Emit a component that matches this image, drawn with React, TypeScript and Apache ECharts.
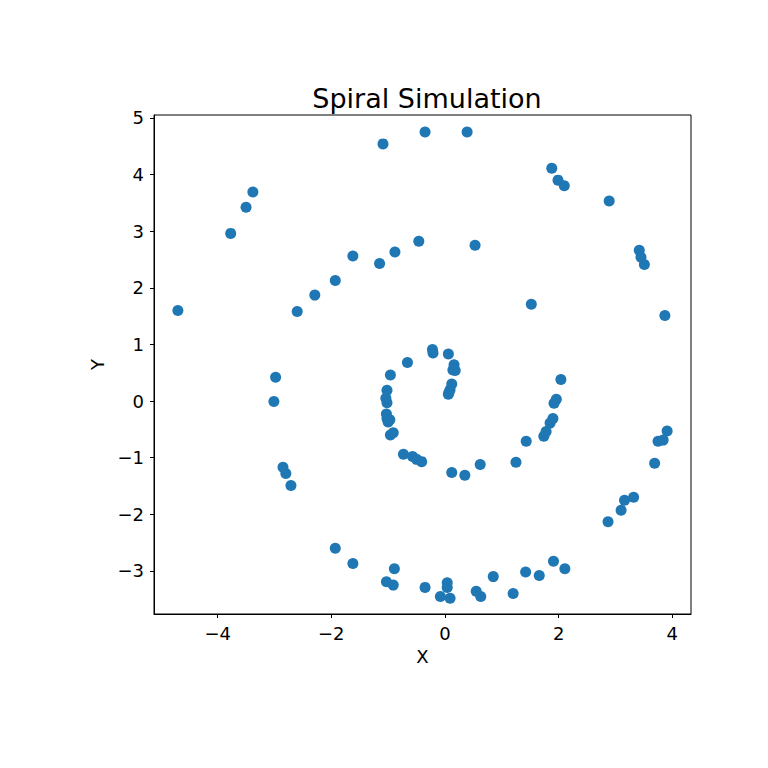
import * as echarts from "echarts";
import { useEffect, useRef } from "react";

// spiral points
const xValues = [
  -4.7, -3.77, -3.5, -3.38, -1.09, -0.35, 0.39, 1.88, 1.99, 2.1, 2.89, 3.42, 3.45, 3.51, 3.87,
  3.91, 3.75, 3.84, 3.69, 3.32, 3.16, 3.1, 2.87, 2.11, 1.91, 1.66, 1.42, 1.2, 0.85, 0.63, 0.55,
  0.09, 0.04, 0.04, -0.08, -0.35, -0.89, -0.91, -1.03, -1.62, -1.93, -2.71, -2.8, -2.85, -3.01,
  -2.98, -2.6, -2.29, -1.93, -1.62, -1.15, -0.88, -0.46, 0.53, 1.52,
  -0.66, -0.22, -0.21, 0.06, 0.16, 0.14, 0.18, 0.12, 0.09, 0.07, 0.06, -0.96, -1.02, -1.04,
  -1.02, -1.03, -1.02, -1.0, -0.97, -0.96, -0.91, -0.73, -0.57, -0.5, -0.41, 0.12, 0.35, 0.62,
  1.25, 1.43, 1.74, 1.78, 1.85, 1.9, 1.92, 1.96, 2.04,
];
const yValues = [
  1.6, 2.96, 3.42, 3.69, 4.54, 4.75, 4.75, 4.11, 3.9, 3.8, 3.53, 2.66, 2.54, 2.41, 1.51,
  -0.53, -0.71, -0.69, -1.1, -1.7, -1.75, -1.93, -2.13, -2.96, -2.83, -3.08, -3.02, -3.4, -3.1,
  -3.45, -3.36, -3.48, -3.29, -3.21, -3.45, -3.29, -2.96, -3.25, -3.19, -2.87, -2.6, -1.49,
  -1.28, -1.17, -0.01, 0.42, 1.58, 1.87, 2.13, 2.56, 2.43, 2.63, 2.82, 2.75, 1.71,
  0.68, 0.91, 0.85, 0.83, 0.64, 0.55, 0.54, 0.3, 0.2, 0.15, 0.12, 0.46, 0.19, 0.05,
  -0.03, -0.23, -0.31, -0.37, -0.33, -0.6, -0.56, -0.94, -0.98, -1.03, -1.07, -1.26, -1.31,
  -1.12, -1.08, -0.71, -0.62, -0.54, -0.39, -0.31, -0.04, 0.03, 0.38,
];
const xTicks = [-4, -2, 0, 2, 4];
const yTicks = [-3, -2, -1, 0, 1, 2, 3, 4, 5];

const font = "DejaVu Sans";
const minus = (v: number) => String(v).replace("-", "\u2212");

export default function App() {
  const chartRef = useRef<HTMLDivElement>(null);
  useEffect(() => {
    const chart = echarts.init(chartRef.current, null, { renderer: "svg" });
    chart.setOption(getChartOption());
    return () => {
      chart.dispose();
    };
  }, []);
  return (
    <div
      ref={chartRef}
      style={{ position: "fixed", left: 0, top: 0, width: "768px", height: "768px", background: "#fff" }}
    />
  );
}

function getChartOption() {
  const axisCommon = {
    type: "value",
    nameLocation: "middle",
    nameTextStyle: { fontFamily: font, fontSize: 18, color: "#000" },
    axisLine: { show: true, onZero: false, lineStyle: { color: "#000", width: 1 } },
    splitLine: { show: false },
  };
  return {
    animation: false,
    title: {
      text: "Spiral Simulation",
      left: 422,
      textAlign: "center",
      top: 80,
      textStyle: { fontFamily: font, fontSize: 27, fontWeight: "normal", color: "#000" },
    },
    grid: {
      left: 154,
      right: 77,
      top: 115,
      bottom: 154,
      show: true,
      borderColor: "#000",
      borderWidth: 1,
      backgroundColor: "transparent",
    },
    xAxis: {
      ...axisCommon,
      name: "X",
      nameGap: 33,
      min: -5.12,
      max: 4.33,
      axisTick: { show: true, inside: false, length: 4, customValues: xTicks, lineStyle: { color: "#000" } },
      axisLabel: {
        customValues: xTicks,
        margin: 10,
        fontFamily: font,
        fontSize: 18,
        color: "#000",
        formatter: minus,
      },
    },
    yAxis: {
      ...axisCommon,
      name: "Y",
      nameGap: 47,
      min: -3.76,
      max: 5.05,
      axisTick: { show: true, inside: false, length: 4, customValues: yTicks, lineStyle: { color: "#000" } },
      axisLabel: {
        customValues: yTicks,
        margin: 10,
        fontFamily: font,
        fontSize: 18,
        color: "#000",
        formatter: minus,
      },
    },
    series: [
      {
        type: "scatter",
        symbolSize: 11,
        itemStyle: { color: "#1f77b4", opacity: 1 },
        data: xValues.map((x, i) => [x, yValues[i]]),
      },
    ],
  };
}
